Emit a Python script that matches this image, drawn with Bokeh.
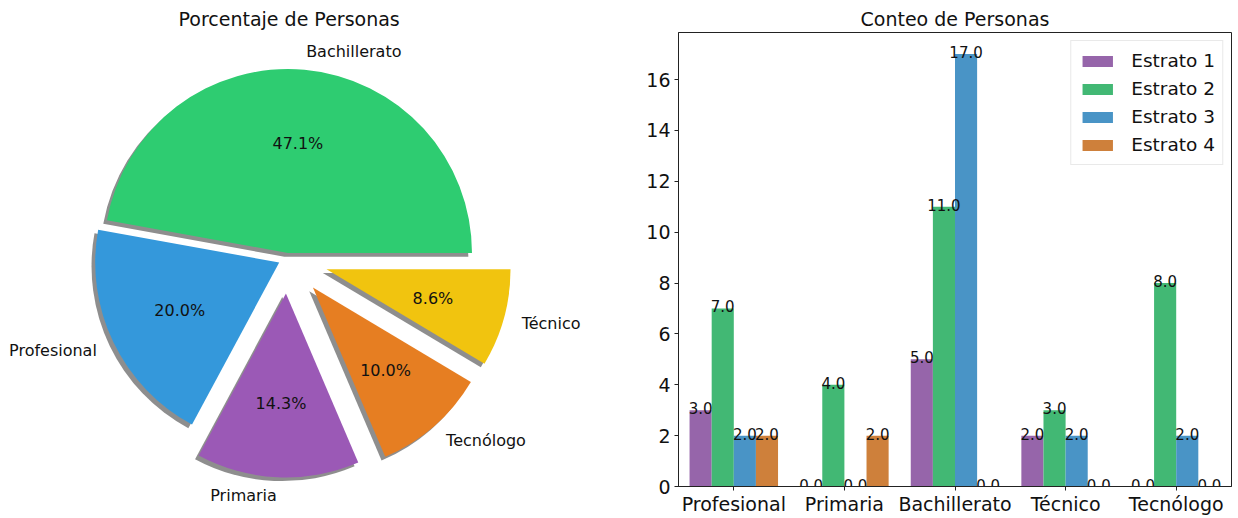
import math
from bokeh.plotting import figure
from bokeh.layouts import row
from bokeh.models import ColumnDataSource, FactorRange, Range1d, SingleIntervalTicker
from bokeh.transform import dodge
from bokeh.core.properties import value, field
from bokeh.embed import file_html
from bokeh.resources import INLINE

# ---------------- data ----------------
pie_labels = ["Bachillerato", "Profesional", "Primaria", "Tecnólogo", "Técnico"]
pie_counts = [33, 14, 10, 7, 6]
pie_colors = ["#2ecc71", "#3498db", "#9b59b6", "#e67e22", "#f1c40f"]
pie_explode = [0.03, 0.05, 0.19, 0.21, 0.22]

categories = ["Profesional", "Primaria", "Bachillerato", "Técnico", "Tecnólogo"]
estrato_1 = [3, 0, 5, 2, 0]
estrato_2 = [7, 4, 11, 3, 8]
estrato_3 = [2, 0, 17, 2, 2]
estrato_4 = [2, 2, 0, 0, 0]
series_names = ["Estrato 1", "Estrato 2", "Estrato 3", "Estrato 4"]
bar_colors = ["#9665aa", "#42b874", "#4994c6", "#ce803b"]
y_ticks_interval = 2

FONT = "DejaVu Sans"
TOP = 32                 # height of the title band above both frames

# ---------------- pie ----------------
R_PX = 184.0             # pixels per unit radius
PIE_W, PIE_H = 620, 484
CX, CY = 287.0, 258.0    # pie centre inside frame (px from left / bottom)

total = float(sum(pie_counts))
starts, ends, mids = [], [], []
acc = 0.0
for c in pie_counts:
    t1 = 360.0 * acc / total
    acc += c
    t2 = 360.0 * acc / total
    starts.append(math.radians(t1))
    ends.append(math.radians(t2))
    mids.append(math.radians((t1 + t2) / 2))

ax = [e * math.cos(m) for e, m in zip(pie_explode, mids)]
ay = [e * math.sin(m) for e, m in zip(pie_explode, mids)]

wedges = ColumnDataSource(dict(
    x=ax, y=ay, sx=[v - 0.02 for v in ax], sy=[v - 0.02 for v in ay],
    start=starts, end=ends, color=pie_colors,
))
pct_src = ColumnDataSource(dict(
    x=[x + 0.6 * math.cos(m) for x, m in zip(ax, mids)],
    y=[y + 0.6 * math.sin(m) for y, m in zip(ay, mids)],
    text=["%.1f%%" % (100.0 * c / total) for c in pie_counts],
))
lab_src = ColumnDataSource(dict(
    x=[x + 1.1 * math.cos(m) for x, m in zip(ax, mids)],
    y=[y + 1.1 * math.sin(m) for y, m in zip(ay, mids)],
    text=pie_labels,
    align=["left" if math.cos(m) >= 0 else "right" for m in mids],
))

pie = figure(
    frame_width=PIE_W, frame_height=PIE_H,
    x_range=Range1d(-CX / R_PX, (PIE_W - CX) / R_PX),
    y_range=Range1d(-CY / R_PX, (PIE_H - CY) / R_PX),
    output_backend="svg", toolbar_location=None,
    min_border=0, min_border_top=TOP,
    title="Porcentaje de Personas",
)
pie.axis.visible = False
pie.grid.visible = False
pie.outline_line_color = None
pie.background_fill_color = "white"
pie.border_fill_color = "white"
pie.title.text_font = FONT
pie.title.text_font_size = "19px"
pie.title.text_font_style = "normal"
pie.title.text_color = "#111111"
pie.title.align = "left"
pie.title.offset = 178
pie.title.standoff = 5

pie.wedge(x="sx", y="sy", radius=1.0, start_angle="start", end_angle="end",
          fill_color="#8e8e8e", line_color=None, source=wedges)
pie.wedge(x="x", y="y", radius=1.0, start_angle="start", end_angle="end",
          fill_color="color", line_color=None, source=wedges)
pie.text(x="x", y="y", text="text", source=pct_src, text_align="center",
         text_baseline="middle", text_font=value(FONT), text_font_size="16px",
         text_color="#111111")
pie.text(x="x", y="y", text="text", source=lab_src, text_align=field("align"),
         text_baseline="middle", text_font=value(FONT), text_font_size="16px",
         text_color="#111111")

# ---------------- bars ----------------
src = ColumnDataSource(dict(
    cat=categories, e1=estrato_1, e2=estrato_2, e3=estrato_3, e4=estrato_4,
    t1=["%.1f" % v for v in estrato_1], t2=["%.1f" % v for v in estrato_2],
    t3=["%.1f" % v for v in estrato_3], t4=["%.1f" % v for v in estrato_4],
))

bar = figure(
    x_range=FactorRange(*categories), y_range=Range1d(0, max(estrato_3) * 1.05),
    frame_width=553, frame_height=454,
    min_border_left=58, min_border_right=7, min_border_top=TOP, min_border_bottom=0,
    output_backend="svg", toolbar_location=None,
    title="Conteo de Personas",
)
bar.background_fill_color = "white"
bar.border_fill_color = "white"
bar.grid.visible = False
bar.outline_line_color = "#222222"
bar.outline_line_width = 1
bar.title.text_font = FONT
bar.title.text_font_size = "19px"
bar.title.text_font_style = "normal"
bar.title.text_color = "#111111"
bar.title.align = "center"
bar.title.standoff = 5

width = 0.2
offsets = [-0.3, -0.1, 0.1, 0.3]
for i, (name, col, off) in enumerate(zip(series_names, bar_colors, offsets)):
    bar.vbar(x=dodge("cat", off, range=bar.x_range), top="e%d" % (i + 1), width=width,
             fill_color=col, line_color=None, source=src, legend_label=name)
for i, off in enumerate(offsets):
    bar.text(x=dodge("cat", off, range=bar.x_range), y="e%d" % (i + 1), text="t%d" % (i + 1),
             source=src, text_align="center", text_baseline="alphabetic", y_offset=-2,
             text_font=value(FONT), text_font_size="15px", text_color="#111111")

bar.yaxis.ticker = SingleIntervalTicker(interval=y_ticks_interval, num_minor_ticks=0)
for axis in (bar.xaxis[0], bar.yaxis[0]):
    axis.major_label_text_font = FONT
    axis.major_label_text_font_size = "19px"
    axis.major_label_text_color = "#111111"
    axis.axis_line_color = "#222222"
    axis.major_tick_line_color = "#222222"
    axis.minor_tick_line_color = None
    axis.major_tick_in = 0
    axis.major_tick_out = 4
bar.xaxis.major_label_standoff = 2
bar.yaxis.major_label_standoff = 4

lg = bar.legend[0]
lg.location = "top_right"
lg.margin = 8
lg.padding = 7
lg.spacing = 3
lg.label_height = 25
lg.glyph_height = 14
lg.glyph_width = 38
lg.label_standoff = 15
lg.label_text_font = FONT
lg.label_text_font_size = "18.5px"
lg.label_text_color = "#111111"
lg.border_line_color = "#d4d4d4"
lg.background_fill_alpha = 0.8

layout = row(pie, bar)
open("out.html", "w").write(file_html(layout, INLINE))
